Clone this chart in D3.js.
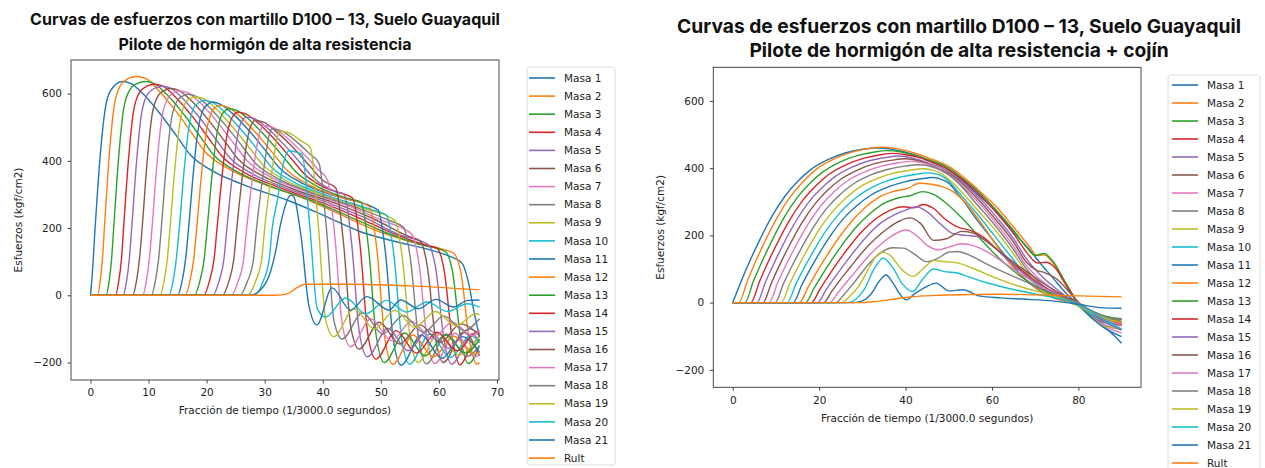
<!DOCTYPE html>
<html>
<head>
<meta charset="utf-8">
<script src="https://cdn.jsdelivr.net/npm/d3@7"></script>
<style>
  html, body { margin: 0; padding: 0; background: #ffffff; }
  svg { display: block; }
</style>
</head>
<body>
<svg id="fig" width="1265" height="468"></svg>
<script>
// ---------- labels & ticks ----------
const seriesLabels = ["Masa 1","Masa 2","Masa 3","Masa 4","Masa 5","Masa 6","Masa 7","Masa 8","Masa 9","Masa 10",
  "Masa 11","Masa 12","Masa 13","Masa 14","Masa 15","Masa 16","Masa 17","Masa 18","Masa 19","Masa 20","Masa 21","Rult"];
const yTicks = [-200, 0, 200, 400, 600];
const xTicksA = [0, 10, 20, 30, 40, 50, 60, 70];
const xTicksB = [0, 20, 40, 60, 80];
const titleA = ["Curvas de esfuerzos con martillo D100 – 13, Suelo Guayaquil", "Pilote de hormigón de alta resistencia"];
const titleB = ["Curvas de esfuerzos con martillo D100 – 13, Suelo Guayaquil", "Pilote de hormigón de alta resistencia + cojín"];
const xLabelText = "Fracción de tiempo (1/3000.0 segundos)";
const yLabelText = "Esfuerzos (kgf/cm2)";

// ---------- left panel: pile without cushion  [time, stress] ----------
const masa01A = [[0,0],[0.3,60],[0.8,200],[1.7,420],[2.5,550],[3.5,610],[5.5,636],[7,630],[9,600],[12,540],[15,470],[17.2,418],[21,370],[26.5,328],[34.5,279],[40.5,235],[46.5,189],[52.5,160],[58.5,135],[62,115],[64,95],[65,45],[66,-45],[67,-125]];
const masa02A = [[0,0],[1.2,0],[1.7,45],[2.1,115],[2.4,200],[3.3,430],[4.1,565],[5.2,625],[6.5,645],[8,651],[9.5,645],[11.5,614],[14.5,553],[17.5,481],[19.7,428],[23.5,379],[29,336],[37,286],[43,241],[49,194],[55,160],[61,135],[62.55,125],[63.85,62],[65.15,-123],[66.55,-205],[67,-200]];
const masa03A = [[0,0],[2.7,0],[3.2,40],[3.65,110],[4,200],[4.9,420],[5.7,553],[6.8,612],[8,630],[9.5,636],[11,630],[13,600],[16,540],[19,470],[21.2,418],[25,370],[30.5,328],[38.5,279],[44.5,235],[50.5,189],[56.5,152],[61.1,130],[62.4,65],[63.7,-122],[65.1,-203],[67,-150]];
const masa04A = [[0,0],[4.3,0],[4.85,40],[5.35,110],[5.7,200],[6.6,414],[7.4,546],[8.5,605],[9.7,622],[11,628],[12.5,622],[14.5,592],[17.5,533],[20.5,464],[22.7,413],[26.5,365],[32,324],[40,275],[46,232],[52,185],[58,148],[59.65,140],[60.95,70],[62.25,-124],[63.65,-207],[65.3,-160],[67,-120]];
const masa05A = [[0,0],[5.6,0],[6.2,40],[6.7,110],[7.1,200],[8,410],[8.8,541],[9.9,600],[11.1,616],[12.3,622],[13.8,616],[15.8,587],[18.8,528],[21.8,459],[24,409],[27.8,362],[33.3,321],[41.3,273],[47.3,230],[53.3,180],[58.2,150],[59.5,75],[60.8,-123],[62.2,-205],[65.7,-115],[67,-140]];
const masa06A = [[0,0],[7.3,0],[7.9,40],[8.45,110],[8.9,200],[9.8,406],[10.6,535],[11.6,592],[12.7,609],[13.8,615],[15.3,609],[17.3,580],[20.3,522],[23.3,454],[25.5,404],[29.3,358],[34.8,317],[42.8,270],[48.8,227],[54.8,175],[56.75,162],[58.05,81],[59.35,-120],[60.75,-200],[64.25,-110],[67,-180]];
const masa07A = [[0,0],[9,0],[9.6,40],[10.15,110],[10.6,200],[11.5,401],[12.3,529],[13.3,585],[14.3,602],[15.3,608],[16.8,602],[18.8,574],[21.8,516],[24.8,449],[27,400],[30.8,354],[36.3,314],[44.3,267],[50.3,222],[55.3,182],[56.6,91],[57.9,-122],[59.3,-203],[62.8,-113],[66.3,-183],[67,-175]];
const masa08A = [[0,0],[10.5,0],[11.15,40],[11.75,110],[12.2,200],[13.1,395],[13.9,520],[14.8,575],[15.8,592],[16.7,598],[18.2,592],[20.2,564],[23.2,507],[26.2,442],[28.4,393],[32.2,348],[37.7,308],[45.7,262],[51.7,221],[53.85,203],[55.15,101],[56.45,-122],[57.85,-204],[61.35,-115],[64.85,-182],[67,-150]];
const masa09A = [[0,0],[12,0],[12.65,40],[13.25,110],[13.7,200],[14.6,390],[15.4,513],[16.2,568],[17.1,585],[18,590],[19.5,585],[21.5,557],[24.5,500],[27.5,436],[29.7,388],[33.5,343],[39,304],[47,259],[52.4,223],[53.7,112],[55,-120],[56.4,-200],[59.9,-112],[63.4,-178],[67,-118]];
const masa10A = [[0,0],[13.5,0],[14.2,40],[14.8,110],[15.3,200],[16.2,385],[17,505],[17.8,558],[18.7,574],[19.5,580],[21,574],[23,547],[26,492],[29,429],[31.2,381],[35,337],[40.5,299],[48.5,254],[50.95,239],[52.25,120],[53.55,-123],[54.95,-205],[58.45,-115],[61.95,-185],[65.45,-120],[67,-140]];
const masa11A = [[0,0],[15,0],[15.75,40],[16.4,110],[16.9,200],[17.8,380],[18.6,500],[19.4,552],[20.2,568],[20.9,575],[22.4,568],[24.4,542],[27.4,488],[30.4,425],[32.6,378],[36.4,334],[41.9,297],[49.5,254],[50.8,127],[52.1,-125],[53.5,-208],[57,-118],[60.5,-188],[64,-123],[67,-170]];
const masa12A = [[0,0],[16.3,0],[17.1,40],[17.8,110],[18.3,200],[19.2,375],[20,492],[20.8,543],[21.5,559],[22.2,565],[23.7,559],[25.7,533],[28.7,479],[31.7,417],[33.9,371],[37.7,328],[43.2,291],[48.05,264],[49.35,132],[50.65,-123],[52.05,-205],[55.55,-118],[59.05,-183],[62.55,-122],[66.05,-175],[67,-168]];
const masa13A = [[0,0],[17.9,0],[18.8,40],[19.6,110],[20.1,200],[21,368],[21.8,484],[22.5,533],[23.2,549],[23.8,555],[25.3,549],[27.3,523],[30.3,470],[33.3,410],[35.5,365],[39.3,322],[44.8,286],[46.6,277],[47.9,138],[49.2,-120],[50.6,-200],[54.1,-112],[57.6,-180],[61.1,-118],[64.6,-172],[67,-130]];
const masa14A = [[0,0],[19.5,0],[20.45,40],[21.3,110],[21.8,200],[22.7,362],[23.5,475],[24.2,523],[24.8,539],[25.3,545],[26.8,539],[28.8,514],[31.8,462],[34.8,402],[37,358],[40.8,317],[45.15,289],[46.45,145],[47.75,-114],[49.15,-190],[52.65,-105],[56.15,-172],[59.65,-110],[63.15,-165],[66.65,-108],[67,-110]];
const masa15A = [[0,0],[21.1,0],[22.1,40],[23,110],[23.5,200],[24.4,353],[25.2,462],[25.8,508],[26.3,524],[26.8,530],[28.3,525],[30.3,500],[33.3,449],[36.3,391],[38.5,348],[42.3,308],[43.7,300],[45,150],[46.3,-110],[47.7,-183],[51.2,-98],[54.7,-165],[58.2,-102],[61.7,-158],[65.2,-100],[67,-115]];
const masa16A = [[0,0],[22.7,0],[23.8,40],[24.7,110],[25.2,200],[26.1,346],[26.9,452],[27.5,498],[27.9,514],[28.3,520],[29.8,515],[31.8,490],[34.8,441],[37.8,384],[40,342],[42.25,319],[43.55,160],[44.85,-96],[46.25,-160],[49.75,-80],[53.25,-145],[56.75,-88],[60.25,-140],[63.75,-85],[67,-120]];
const masa17A = [[0,0],[24.2,0],[25.4,40],[26.4,110],[26.9,200],[27.8,336],[28.6,439],[29.1,482],[29.5,499],[29.8,505],[31.3,500],[33.3,476],[36.3,428],[39.3,373],[40.8,344],[42.1,172],[43.4,-92],[44.8,-153],[48.3,-70],[51.8,-135],[55.3,-78],[58.8,-130],[62.3,-80],[65.8,-120],[67,-105]];
const masa18A = [[0,0],[25.7,0],[27,40],[28.1,110],[28.6,200],[29.5,330],[30.3,430],[30.7,472],[31,489],[31.3,495],[32.8,490],[34.8,467],[37.8,420],[39.35,393],[40.65,196],[41.95,-78],[43.35,-130],[46.85,-52],[50.35,-115],[53.85,-60],[57.35,-110],[60.85,-62],[64.35,-105],[67,-70]];
const masa19A = [[0,0],[27,0],[28.4,40],[29.5,110],[30,200],[30.9,325],[31.7,423],[32.1,465],[32.4,482],[32.7,488],[34.2,483],[36.2,460],[37.9,437],[39.2,218],[40.5,-74],[41.9,-123],[45.4,-40],[48.9,-100],[52.4,-45],[55.9,-95],[59.4,-48],[62.9,-90],[66.4,-55],[67,-58]];
const masa20A = [[0,0],[28.2,0],[29.7,40],[30.8,110],[31.3,200],[32.2,284],[33,374],[33.6,415],[34.2,430],[35.2,427],[36.45,419],[37.75,210],[39.05,-39],[40.45,-65],[43.95,-8],[47.45,-55],[50.95,-15],[54.45,-50],[57.95,-20],[61.45,-48],[64.95,-25],[67,-35]];
const masa21A = [[0,0],[27.5,0],[29.5,20],[31,70],[32,140],[32.6,200],[33.4,258],[34,288],[34.6,298],[35,294],[36.3,170],[37.6,-30],[39,-88],[41.6,22],[44.8,-44],[47.6,-4],[51.4,-44],[53.4,-14],[56.5,-40],[59.5,-12],[62.5,-35],[65,-15],[67,-14]];
const rultA = [[0,0],[32,0],[34,5],[35.5,22],[37,33],[45,33],[55,28],[67,16]];

// ---------- right panel: pile with cushion  [time, stress] ----------
const masa01B = [[0,0],[2,65],[4,125],[6,180],[9,255],[12,315],[15,360],[18,395],[22,425],[26,445],[30,456],[33,460],[37,456],[42,440],[46,420],[50,395],[53,365],[56,330],[61,270],[65,210],[68.5,160],[71,120],[74,75],[77,30],[79.5,0],[82,-30],[85,-62],[88,-95],[90,-121]];
const masa02B = [[0,0],[1.4,0],[3.4,65],[5.4,125],[7.4,181],[10.4,256],[13.4,316],[16.4,361],[19.4,397],[23.4,427],[27.4,447],[31.4,458],[34.5,462],[38,458],[42,445],[46,427],[50,405],[53,378],[56,345],[61,285],[65,225],[68.5,170],[70.5,140],[72,142],[74,120],[77,60],[79.5,8],[82.5,-35],[85,-55],[87.5,-60],[90,-60]];
const masa03B = [[0,0],[2.8,0],[4.8,64],[6.8,123],[8.8,177],[11.8,251],[14.8,310],[17.8,354],[20.8,388],[24.8,418],[28.8,437],[32.8,448],[35.5,452],[39,448],[42,438],[46,422],[50,400],[53,372],[56,340],[61,275],[65,215],[68,165],[70,140],[72,146],[74,125],[77,60],[79.5,8],[82.5,-30],[85,-48],[87.5,-52],[90,-50]];
const masa04B = [[0,0],[4.2,0],[6.2,63],[8.2,121],[10.2,174],[13.2,246],[16.2,304],[19.2,347],[22.2,381],[26.2,410],[30.2,429],[34.2,440],[37,444],[40,440],[43,432],[46.5,415],[50,395],[53,368],[56,335],[61,268],[65,205],[68,150],[70.5,118],[72.5,120],[74.5,105],[77,55],[79.5,5],[82.5,-35],[85,-55],[88,-60],[90,-62]];
const masa05B = [[0,0],[5.6,0],[7.6,62],[9.6,118],[11.6,171],[14.6,242],[17.6,299],[20.6,341],[23.6,374],[27.6,403],[31.6,422],[35.6,432],[38,436],[40.5,433],[43,425],[46.5,410],[50,390],[53,360],[56,325],[61,255],[65,190],[68,130],[71,85],[74,50],[77,20],[79,0],[82,-30],[85,-60],[88,-75],[90,-80]];
const masa06B = [[0,0],[7,0],[9,60],[11,116],[13,167],[16,237],[19,293],[22,335],[25,367],[29,395],[33,414],[37,424],[40,428],[42,425],[44,418],[47,402],[50,385],[53,355],[56,318],[61,245],[65,180],[68,120],[70.5,95],[72,90],[75,70],[78,30],[80,0],[83,-30],[86,-50],[90,-58]];
const masa07B = [[0,0],[8.4,0],[10.4,59],[12.4,114],[14.4,164],[17.4,233],[20.4,288],[23.4,329],[26.4,361],[30.4,388],[34.4,406],[38.4,416],[41,420],[43,418],[45,412],[47.5,398],[50,380],[53,348],[56,310],[61,235],[65,168],[68,110],[71,70],[74,40],[77,15],[80,-5],[83,-40],[86,-70],[90,-90]];
const masa08B = [[0,0],[9.8,0],[11.8,58],[13.8,111],[15.8,160],[18.8,227],[21.8,281],[24.8,321],[27.8,352],[31.8,379],[35.8,396],[39.8,406],[43,410],[45,408],[47,400],[49,388],[51,370],[53.5,338],[56,300],[61,225],[65,158],[68,100],[71,60],[74,30],[77,10],[80,-8],[83,-40],[86,-60],[90,-65]];
const masa09B = [[0,0],[11.2,0],[13.2,56],[15.2,108],[17.2,156],[20.2,221],[23.2,272],[26.2,311],[29.2,342],[33.2,368],[37.2,385],[41.2,394],[44,398],[46,395],[48,386],[51,355],[53.5,322],[56,285],[61,212],[65,145],[68,90],[71,52],[74,25],[77,8],[80,-10],[83,-45],[86,-70],[90,-78]];
const masa10B = [[0,0],[12.6,0],[14.6,55],[16.6,105],[18.6,151],[21.6,214],[24.6,264],[27.6,302],[30.6,331],[34.6,357],[38.6,373],[42.6,382],[45,386],[47,383],[49,372],[51.5,340],[54,302],[56.5,265],[60.5,200],[64.5,135],[68,80],[71,45],[74,20],[77,5],[80,-10],[83,-35],[86,-55],[90,-82]];
const masa11B = [[0,0],[14,0],[16,53],[18,101],[20,146],[23,206],[26,255],[29,291],[32,320],[36,344],[40,360],[44,369],[46,372],[48,368],[50,355],[52,325],[54,292],[56,255],[60,190],[64,125],[67.5,72],[70.5,40],[73.5,18],[76.5,5],[80,-8],[83,-45],[86,-75],[90,-101]];
const masa12B = [[0,0],[15.4,0],[17.4,45],[19.4,90],[21.4,132],[24.4,190],[27.4,240],[30.4,280],[33.4,310],[37,330],[40.5,340],[43.2,355],[46,352],[48.5,345],[51,330],[54,295],[57,245],[60,190],[63,135],[66,90],[69,55],[72,30],[75,12],[78,0],[81,-15],[84,-35],[87,-50],[90,-58]];
const masa13B = [[0,0],[16.8,0],[18.8,42],[20.8,85],[22.8,125],[25.8,180],[28.8,228],[31.8,265],[35,295],[38.5,312],[41,318],[44,330],[46.5,322],[49,300],[52,265],[55,225],[58,180],[61,140],[64,105],[67,75],[70,50],[73,30],[76,12],[79,0],[82,-18],[85,-35],[88,-45],[90,-48]];
const masa14B = [[0,0],[18.2,0],[20.2,40],[22.2,80],[24.2,118],[27.2,170],[30.2,215],[33.2,250],[36.5,275],[39.5,285],[42,282],[44,292],[46.5,280],[49,250],[52,225],[55,215],[58,195],[61,160],[64,125],[67,95],[70,65],[73,40],[76,20],[79,3],[82,-20],[85,-45],[88,-62],[90,-68]];
const masa15B = [[0,0],[19.6,0],[21.6,38],[23.6,75],[25.6,110],[28.6,160],[31.6,205],[34.6,240],[37.5,262],[40,275],[42.5,285],[45,270],[48,235],[51,205],[54,200],[57,195],[60,170],[63,135],[66,100],[69,70],[72,45],[75,25],[78,8],[81,-12],[84,-40],[87,-65],[90,-80]];
const masa16B = [[0,0],[21,0],[23,35],[25,70],[27,102],[30,150],[33,190],[36,222],[38.5,242],[41,252],[43.5,235],[46.5,185],[49.5,190],[53,212],[56,205],[59,180],[62,150],[65,120],[68,92],[71,65],[74,40],[77,18],[80,0],[83,-25],[86,-45],[90,-55]];
const masa17B = [[0,0],[22.4,0],[24.4,30],[26.4,62],[28.4,92],[31.4,138],[34.4,175],[37,200],[40.2,216],[42.5,200],[45,170],[47.5,157],[50,165],[53,175],[56,168],[59,150],[62,125],[65,100],[68,75],[71,50],[74,30],[77,12],[80,-2],[83,-25],[86,-50],[90,-65]];
const masa18B = [[0,0],[23.8,0],[25.8,25],[27.8,55],[29.8,88],[32,122],[34.5,150],[37,163],[39.5,162],[42,145],[44.8,122],[47.5,132],[50,150],[52,152],[55,140],[58,120],[62,95],[66,72],[70,50],[74,28],[78,8],[81,-10],[84,-30],[87,-45],[90,-50]];
const masa19B = [[0,0],[25.2,0],[27.2,20],[29.2,50],[31.2,95],[33,135],[34.5,150],[36.5,140],[39,100],[41.7,78],[44,100],[46.5,125],[49,122],[52,118],[56,100],[60,78],[64,58],[68,42],[72,28],[76,12],[80,-10],[84,-35],[87,-50],[90,-58]];
const masa20B = [[0,0],[26.6,0],[28.5,10],[30.5,40],[32.5,95],[34.8,132],[37,105],[39.3,55],[41.7,33],[43.7,65],[46.5,100],[49,92],[52,88],[55,75],[58,62],[62,48],[66,36],[70,26],[74,16],[78,4],[82,-20],[86,-50],[90,-78]];
const masa21B = [[0,0],[28,0],[30,5],[32,25],[34,65],[35.5,82],[37,60],[39,20],[40.2,8],[42,25],[44.5,45],[47.1,58],[50,35],[53.3,38],[57,20],[62,14],[68,10],[74,5],[80,-5],[85,-15],[90,-17]];
const rultB = [[0,0],[30,0],[33,3],[36,8],[40,15],[44,20],[48,22],[55,24],[62,25],[70,23],[80,20],[90,17]];

const seriesA = [masa01A,masa02A,masa03A,masa04A,masa05A,masa06A,masa07A,masa08A,masa09A,masa10A,masa11A,
  masa12A,masa13A,masa14A,masa15A,masa16A,masa17A,masa18A,masa19A,masa20A,masa21A,rultA];
const seriesB = [masa01B,masa02B,masa03B,masa04B,masa05B,masa06B,masa07B,masa08B,masa09B,masa10B,masa11B,
  masa12B,masa13B,masa14B,masa15B,masa16B,masa17B,masa18B,masa19B,masa20B,masa21B,rultB];

// ---------- drawing ----------
const tab10 = ["#1f77b4","#ff7f0e","#2ca02c","#d62728","#9467bd","#8c564b","#e377c2","#7f7f7f","#bcbd22","#17becf"];
const svg = d3.select("#fig");
const tickFont = "'DejaVu Sans', Verdana, sans-serif";
const titleFont = "Inter, 'Liberation Sans', Arial, sans-serif";
const fontSize = 10.5;
const yDomain = [-252, 700];
const minus = d => (d < 0 ? "\u2212" + Math.abs(d) : String(d));

function drawPanel(o) {
  const x = d3.scaleLinear().domain(o.xDomain).range([o.left, o.right]);
  const y = d3.scaleLinear().domain(yDomain).range([o.bottom, o.top]);
  const g = svg.append("g");

  g.append("clipPath").attr("id", o.id)
    .append("rect").attr("x", o.left).attr("y", o.top)
    .attr("width", o.right - o.left).attr("height", o.bottom - o.top);

  const line = d3.line().x(d => x(d[0])).y(d => y(d[1])).curve(d3.curveMonotoneX);
  const plot = g.append("g").attr("clip-path", `url(#${o.id})`);
  o.series.forEach((s, i) => {
    plot.append("path").attr("d", line(s))
      .attr("fill", "none").attr("stroke", tab10[i % 10])
      .attr("stroke-width", 1.4).attr("stroke-linejoin", "round");
  });

  // axes
  const xa = g.append("g").attr("transform", `translate(0,${o.bottom})`)
    .call(d3.axisBottom(x).tickValues(o.xTicks).tickSize(3.5).tickPadding(5.5).tickFormat(minus));
  const ya = g.append("g").attr("transform", `translate(${o.left},0)`)
    .call(d3.axisLeft(y).tickValues(yTicks).tickSize(3.5).tickPadding(5.5).tickFormat(minus));
  [xa, ya].forEach(a => {
    a.select(".domain").remove();
    a.selectAll(".tick line").attr("stroke", "#333").attr("stroke-width", 0.9);
    a.selectAll(".tick text").attr("font-family", tickFont).attr("font-size", fontSize).attr("fill", "#222");
  });

  // frame
  g.append("rect").attr("x", o.left).attr("y", o.top)
    .attr("width", o.right - o.left).attr("height", o.bottom - o.top)
    .attr("fill", "none").attr("stroke", "#333").attr("stroke-width", 0.9);

  // axis labels
  g.append("text").attr("x", (o.left + o.right) / 2).attr("y", o.xLabelY)
    .attr("text-anchor", "middle").attr("dy", "0.35em")
    .attr("font-family", tickFont).attr("font-size", fontSize).attr("fill", "#222")
    .text(xLabelText);
  g.append("text").attr("transform", `translate(${o.yLabelX},${(o.top + o.bottom) / 2}) rotate(-90)`)
    .attr("text-anchor", "middle").attr("dy", "0.35em")
    .attr("font-family", tickFont).attr("font-size", fontSize).attr("fill", "#222")
    .text(yLabelText);

  // legend
  const lg = g.append("g");
  lg.append("rect").attr("x", o.leg.x).attr("y", o.leg.y).attr("width", o.leg.w).attr("height", o.leg.h)
    .attr("rx", 3).attr("fill", "#fff").attr("stroke", "#d9d9d9").attr("stroke-width", 0.9);
  seriesLabels.forEach((lab, i) => {
    const yy = o.leg.first + i * o.leg.step;
    lg.append("line").attr("x1", o.leg.h1).attr("x2", o.leg.h2).attr("y1", yy).attr("y2", yy)
      .attr("stroke", tab10[i % 10]).attr("stroke-width", 1.6);
    lg.append("text").attr("x", o.leg.tx).attr("y", yy).attr("dy", "0.35em")
      .attr("font-family", tickFont).attr("font-size", fontSize).attr("fill", "#222").text(lab);
  });

  // two-line bold title, sized so the first line spans the given width
  const t1 = g.append("text").attr("x", o.title.cx).attr("y", o.title.y1).attr("text-anchor", "middle")
    .attr("font-family", titleFont).attr("font-weight", 700).attr("font-size", 16).attr("fill", "#111")
    .text(o.titleLines[0]);
  const fs = 16 * o.title.width / t1.node().getComputedTextLength();
  t1.attr("font-size", fs);
  g.append("text").attr("x", o.title.cx).attr("y", o.title.y2).attr("text-anchor", "middle")
    .attr("font-family", titleFont).attr("font-weight", 700).attr("font-size", fs).attr("fill", "#111")
    .text(o.titleLines[1]);
}

drawPanel({
  id: "clipA", series: seriesA, xDomain: [-3.35, 70.35], xTicks: xTicksA,
  left: 71, right: 499, top: 60, bottom: 380,
  xLabelY: 410.5, yLabelX: 18,
  leg: { x: 527, y: 67, w: 88, h: 398, first: 78, step: 18.1, h1: 529, h2: 555, tx: 564 },
  title: { cx: 265, y1: 25, y2: 50, width: 470 }, titleLines: titleA
});
drawPanel({
  id: "clipB", series: seriesB, xDomain: [-4.5, 94.5], xTicks: xTicksB,
  left: 713.3, right: 1141, top: 67.3, bottom: 387.3,
  xLabelY: 418, yLabelX: 660,
  leg: { x: 1168, y: 75, w: 92, h: 410, first: 85, step: 18, h1: 1172, h2: 1198, tx: 1207 },
  title: { cx: 959, y1: 33, y2: 56.5, width: 564 }, titleLines: titleB
});
</script>
</body>
</html>
